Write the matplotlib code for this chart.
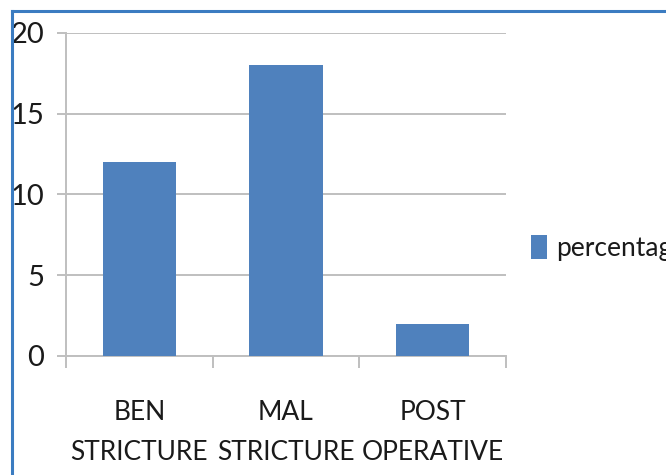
import matplotlib
matplotlib.use("Agg")
import matplotlib.pyplot as plt
from matplotlib.lines import Line2D
import numpy as np

categories = ["BEN\nSTRICTURE", "MAL\nSTRICTURE", "POST\nOPERATIVE"]
percentage = [12, 18, 2]
y_ticks = [0, 5, 10, 15, 20]

plt.rcParams['font.family'] = ['Lato', 'DejaVu Sans']

bar_color = '#4f81bd'
grid_color = '#bfbfbf'
text_color = '#1a1a1a'

fig = plt.figure(figsize=(6.66, 4.75), dpi=100)
ax = fig.add_axes([66/666, 1-356/475, 440/666, 323/475])

x = np.arange(len(categories))
ax.bar(x, percentage, width=0.5, color=bar_color, label='percentage', zorder=3)

ax.set_xlim(-0.5, len(categories) - 0.5)
ax.set_ylim(0, 20)

# horizontal grid
ax.set_yticks(y_ticks)
ax.set_yticklabels([str(t) for t in y_ticks], fontsize=21, color=text_color)
ax.yaxis.grid(True, color=grid_color, linewidth=1.4, zorder=0)
ax.tick_params(axis='y', length=6.5, width=1.4, color=grid_color, pad=9)

# category boundaries as major ticks, names on minor ticks
ax.set_xticks(np.arange(len(categories) + 1) - 0.5)
ax.set_xticklabels([])
ax.set_xticks(x, minor=True)
ax.set_xticklabels(categories, minor=True, fontsize=19, color=text_color, linespacing=1.72)
ax.tick_params(axis='x', which='major', length=8.5, width=1.4, color=grid_color)
ax.tick_params(axis='x', which='minor', length=0, pad=32)

for side in ['top', 'right']:
    ax.spines[side].set_visible(False)
for side in ['left', 'bottom']:
    ax.spines[side].set_color(grid_color)
    ax.spines[side].set_linewidth(1.4)

fig.legend(loc='center left', bbox_to_anchor=(531/666, 1-248/475), frameon=False,
           fontsize=19, handlelength=0.6, handleheight=1.0, handletextpad=0.35,
           borderaxespad=0, borderpad=0, labelcolor=text_color)

# outer frame of the chart area
frame_color = '#3b7cc1'
fig.add_artist(Line2D([12/666, 12/666], [1-11/475, 0], transform=fig.transFigure,
                      color=frame_color, linewidth=2.2))
fig.add_artist(Line2D([12/666, 1], [1-11/475, 1-11/475], transform=fig.transFigure,
                      color=frame_color, linewidth=2.2))

fig.savefig('out.png', dpi=100)
